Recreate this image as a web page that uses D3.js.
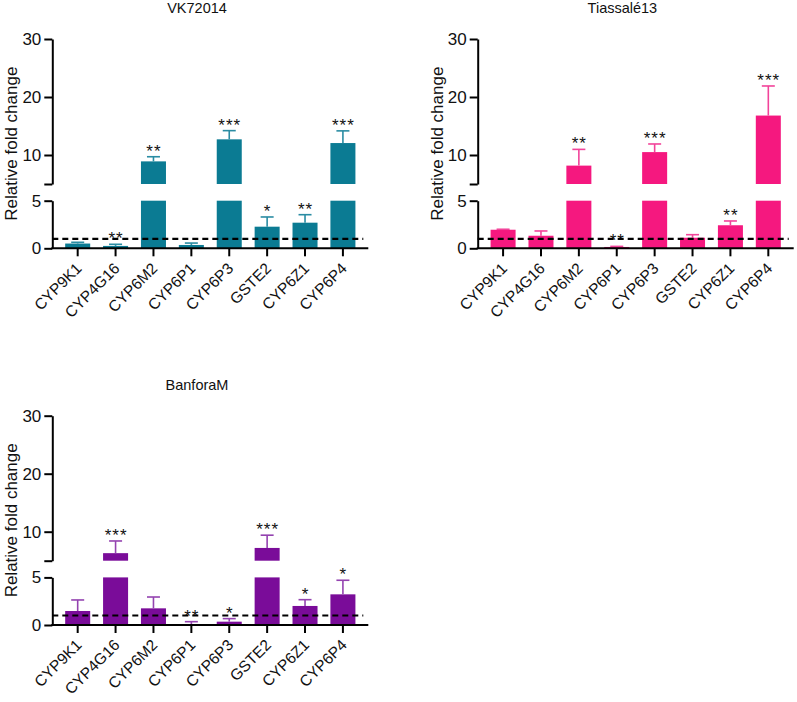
<!DOCTYPE html>
<html>
<head>
<meta charset="utf-8">
<script src="https://cdn.jsdelivr.net/npm/d3@7"></script>
<style>
  html, body { margin: 0; padding: 0; background: #fff; }
  svg { display: block; }
  text { font-family: "Liberation Sans", Arial, Helvetica, sans-serif; fill: #111; }
</style>
</head>
<body>
<svg id="chart" width="797" height="702"></svg>
<script>
const categories = ["CYP9K1", "CYP4G16", "CYP6M2", "CYP6P1", "CYP6P3", "GSTE2", "CYP6Z1", "CYP6P4"];

const vkValues = [0.5, 0.25, 8.9, 0.35, 12.7, 2.27, 2.69, 12.06];
const vkErrors = [0.13, 0.17, 0.8, 0.2, 1.5, 1.02, 0.84, 2.1];
const vkStars  = ["", "**", "**", "", "***", "*", "**", "***"];

const tiValues = [1.95, 1.32, 8.17, 0.14, 10.5, 1.11, 2.42, 16.8];
const tiErrors = [0.05, 0.5, 2.8, 0.06, 1.4, 0.32, 0.45, 5.1];
const tiStars  = ["", "", "**", "**", "***", "", "**", "***"];

const bfValues = [1.47, 6.3, 1.75, 0.1, 0.35, 7.2, 2.0, 3.22];
const bfErrors = [1.16, 2.1, 1.19, 0.25, 0.32, 2.2, 0.66, 1.48];
const bfStars  = ["", "***", "", "**", "*", "***", "*", "*"];

const titles = ["VK72014", "Tiassalé13", "BanforaM"];
const lowTicks = [0, 5];
const highTicks = [5, 10, 20, 30];
const breakValue = 5;
const refLine = 1;

const svg = d3.select("#chart");
const FONT = '"Liberation Sans", Arial, sans-serif';

function drawPanel(ox, oy, title, values, errors, stars, color, errColor) {
  const g = svg.append("g").attr("transform", `translate(${ox},${oy})`);
  const x = d3.scaleBand().domain(categories).range([0, 316]).paddingInner(0.34).paddingOuter(0.34);
  const yLow = d3.scaleLinear().domain([0, breakValue]).range([248.3, 200.7]);
  const yHigh = d3.scaleLinear().domain([breakValue, 30]).range([184, 39]);
  const yPos = v => v <= breakValue ? yLow(v) : yHigh(v);

  const data = categories.map((c, i) => ({c, v: values[i], e: errors[i], s: stars[i]}));
  g.selectAll("rect.low").data(data).join("rect")
    .attr("class", "low")
    .attr("x", d => x(d.c)).attr("width", x.bandwidth())
    .attr("y", d => yLow(Math.min(d.v, breakValue)))
    .attr("height", d => yLow(0) - yLow(Math.min(d.v, breakValue)))
    .attr("fill", color);
  g.selectAll("rect.high").data(data.filter(d => d.v > breakValue)).join("rect")
    .attr("class", "high")
    .attr("x", d => x(d.c)).attr("width", x.bandwidth())
    .attr("y", d => yHigh(d.v))
    .attr("height", d => yHigh(breakValue) - yHigh(d.v))
    .attr("fill", color);

  const eg = g.append("g").attr("stroke", errColor).attr("stroke-width", 1.6).attr("fill", "none");
  data.forEach(d => {
    const cx = x(d.c) + x.bandwidth() / 2;
    const y0 = yPos(d.v), y1 = yPos(d.v + d.e);
    eg.append("line").attr("x1", cx).attr("x2", cx).attr("y1", y0).attr("y2", y1);
    eg.append("line").attr("x1", cx - 6.5).attr("x2", cx + 6.5).attr("y1", y1).attr("y2", y1);
  });

  g.selectAll("text.star").data(data.filter(d => d.s)).join("text")
    .attr("class", "star")
    .attr("x", d => x(d.c) + x.bandwidth() / 2 + 0.5)
    .attr("y", d => yPos(d.v + d.e))
    .attr("text-anchor", "middle")
    .attr("font-size", 17)
    .attr("letter-spacing", 1)
    .text(d => d.s);

  g.append("line")
    .attr("x1", 0).attr("x2", 311)
    .attr("y1", yLow(refLine)).attr("y2", yLow(refLine))
    .attr("stroke", "#000").attr("stroke-width", 2.2)
    .attr("stroke-dasharray", "6,4");

  const axLow = d3.axisLeft(yLow).tickValues(lowTicks).tickSize(8).tickSizeOuter(0).tickPadding(3)
    .tickFormat(d3.format("d"));
  const axHigh = d3.axisLeft(yHigh).tickValues(highTicks).tickSize(8).tickSizeOuter(0).tickPadding(3)
    .tickFormat(v => v === breakValue ? "" : d3.format("d")(v));
  [axLow, axHigh].forEach(ax => {
    const a = g.append("g").call(ax);
    a.select(".domain").attr("stroke", "#000").attr("stroke-width", 2);
    a.selectAll(".tick line").attr("stroke", "#000").attr("stroke-width", 2);
    a.selectAll(".tick text").attr("font-size", 17).attr("fill", "#111").style("font-family", FONT);
  });

  const ax = g.append("g").attr("transform", `translate(0,${yLow(0)})`)
    .call(d3.axisBottom(x).tickSize(8).tickSizeOuter(0));
  ax.select(".domain").attr("stroke", "#000").attr("stroke-width", 2).attr("d", "M-1,0H316");
  ax.selectAll(".tick line").attr("stroke", "#000").attr("stroke-width", 2);
  ax.selectAll(".tick text")
    .attr("x", 0).attr("y", 0).attr("dy", 0)
    .attr("transform", "translate(5,21) rotate(-45)")
    .attr("text-anchor", "end")
    .attr("font-size", 15.5).attr("fill", "#111")
    .style("font-family", FONT);

  g.append("text")
    .attr("transform", `translate(-35,${(yLow(0) + yHigh(30)) / 2}) rotate(-90)`)
    .attr("text-anchor", "middle")
    .attr("font-size", 17)
    .text("Relative fold change");

  g.append("text")
    .attr("x", 144.7).attr("y", 13)
    .attr("text-anchor", "middle")
    .attr("font-size", 14.5)
    .text(title);
}

drawPanel(52.3, 0, titles[0], vkValues, vkErrors, vkStars, "#0b7b93", "#2a8ca3");
drawPanel(477.7, 0, titles[1], tiValues, tiErrors, tiStars, "#f5187f", "#f2449a");
drawPanel(52.3, 376.7, titles[2], bfValues, bfErrors, bfStars, "#7a0c99", "#9443b0");
</script>
</body>
</html>
